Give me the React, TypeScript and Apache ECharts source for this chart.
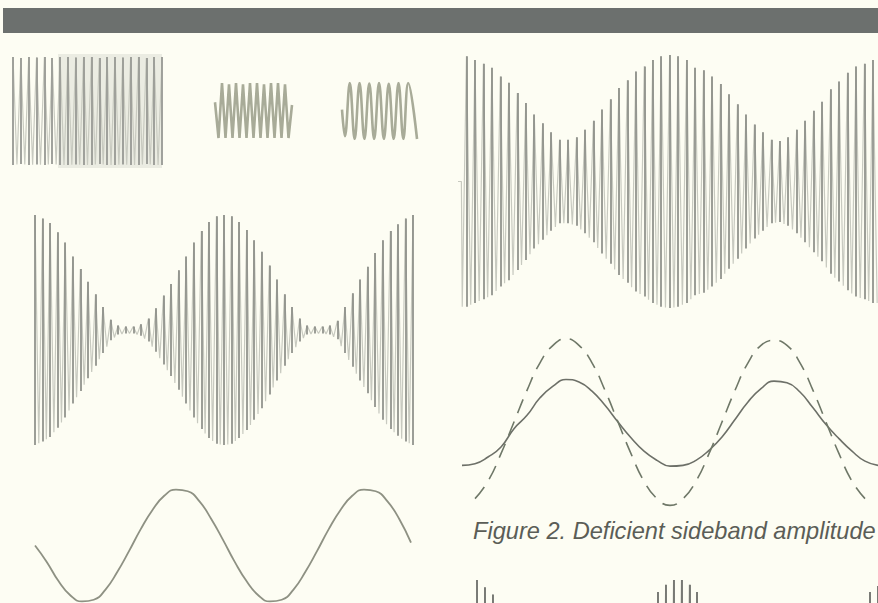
import React, { useEffect, useRef } from "react";
import * as echarts from "echarts";

// ---- Data ----
// A: unmodulated carrier block (top left), envelope per carrier cycle
const carrierEnvA = [1, 0.98, 1, 0.99, 1, 0.98, 1, 1, 0.99, 1, 1, 0.98, 1, 1, 0.99, 1, 1, 0.98, 1, 1];
// B: sideband burst (half-cycle peaks)
const burstB = [0.3, -1, 1, -1, 0.95, -1, 1, -1, 0.95, -1, 1, -1, 1, -1, 0.95, -1, 1, -1, 1, -1, 0.95, -1, 0.2];
// C: lower sideband burst, half-cycle peak positions (cycles) and values
const burstCX = [0, 0.3, 0.8, 1.3, 1.8, 2.3, 2.8, 3.3, 3.8, 4.3, 4.8, 5.3, 5.8, 6.3, 6.8, 7.7];
const burstCY = [0.05, -0.9, 1, -1, 1, -1, 0.98, -1, 1, -1, 0.97, -1, 1, -1, 1, -1];
// D: 100% modulated carrier, envelope per carrier cycle
const envD = [1.0, 0.97, 0.93, 0.85, 0.76, 0.64, 0.53, 0.42, 0.31, 0.2, 0.09, 0.04, 0.03, 0.03, 0.05, 0.1, 0.19, 0.3, 0.4, 0.52, 0.64, 0.76, 0.86, 0.94, 0.99, 1.0, 0.99, 0.94, 0.87, 0.78, 0.68, 0.56, 0.44, 0.31, 0.2, 0.1, 0.04, 0.03, 0.03, 0.04, 0.08, 0.2, 0.32, 0.44, 0.55, 0.67, 0.78, 0.86, 0.92, 0.97, 1.0];
// E: recovered audio (bottom left), samples every 1/16 period
const audioE = [0.0, -0.29, -0.63, -0.88, -0.99, -0.96, -0.78, -0.47, -0.1, 0.29, 0.63, 0.88, 0.99, 0.96, 0.78, 0.47, 0.1, -0.29, -0.63, -0.88, -0.99, -0.96, -0.78, -0.47, -0.1, 0.29, 0.63, 0.88, 0.99, 0.96, 0.78, 0.47, 0.05];
// F: partially modulated carrier (top right), envelope per carrier cycle
const envF = [0.99, 0.96, 0.93, 0.9, 0.83, 0.78, 0.7, 0.62, 0.53, 0.46, 0.39, 0.33, 0.33, 0.35, 0.41, 0.48, 0.57, 0.65, 0.74, 0.8, 0.87, 0.91, 0.96, 0.99, 1.0, 0.99, 0.96, 0.9, 0.88, 0.83, 0.77, 0.69, 0.61, 0.53, 0.45, 0.39, 0.33, 0.32, 0.35, 0.41, 0.48, 0.56, 0.63, 0.73, 0.79, 0.86, 0.91, 0.93, 0.96];
// G: envelopes, phase in degrees
const solidPhase = [-180, -157.5, -135, -112.5, -90, -67.5, -45, -22.5, 0, 22.5, 45, 67.5, 90, 112.5, 135, 157.5, 180, 202.5, 225, 247.5, 270, 292.5, 315, 337.5, 360, 382.5, 405, 427.5, 450, 472.5, 495, 517.5, 540];
const solidEnv = [-0.52, -0.5, -0.42, -0.3, -0.08, 0.08, 0.29, 0.43, 0.51, 0.48, 0.37, 0.2, 0.0, -0.19, -0.35, -0.46, -0.53, -0.52, -0.46, -0.34, -0.18, 0.03, 0.24, 0.4, 0.49, 0.47, 0.36, 0.17, -0.03, -0.2, -0.35, -0.47, -0.52];
const dashedPhase = [-157.5, -135, -112.5, -90, -67.5, -45, -22.5, 0, 22.5, 45, 67.5, 90, 112.5, 135, 157.5, 180, 202.5, 225, 247.5, 270, 292.5, 315, 337.5, 360, 382.5, 405, 427.5, 450, 472.5, 495, 517.5];
const dashedEnv = [-0.92, -0.71, -0.38, 0, 0.38, 0.71, 0.92, 1.0, 0.92, 0.71, 0.38, 0, -0.38, -0.71, -0.92, -1.0, -0.92, -0.71, -0.38, 0, 0.38, 0.71, 0.92, 0.98, 0.92, 0.71, 0.38, 0, -0.38, -0.71, -0.92];
// H: next figure's carrier (only its tops show at the bottom edge), envelope per cycle
const envH = [1.0, 0.94, 0.88, 0.8, 0.7, 0.6, 0.5, 0.4, 0.3, 0.2, 0.12, 0.06, 0.03, 0.03, 0.06, 0.12, 0.2, 0.3, 0.4, 0.5, 0.6, 0.7, 0.8, 0.9, 0.96, 1.0, 1.0, 0.96, 0.9, 0.8, 0.7, 0.6, 0.5, 0.4, 0.3, 0.2, 0.12, 0.06, 0.03, 0.03, 0.06, 0.12, 0.2, 0.3, 0.4, 0.5, 0.6, 0.7, 0.75, 0.8, 0.9, 0.95];

const captionText = "Figure 2. Deficient sideband amplitude";

function traceData(env: number[]) {
  const d: number[][] = [];
  for (let i = 0; i < env.length; i++) {
    d.push([i, env[i]]);
    if (i < env.length - 1) d.push([i + 0.5, -(env[i] + env[i + 1]) / 2]);
  }
  return d;
}
function strokeData(env: number[]) {
  return env.map((a, i) => ({ coords: [[i, -a], [i, a]] }));
}

export default function App() {
  const ref = useRef<HTMLDivElement>(null);
  useEffect(() => {
    if (!ref.current) return;
    const chart = echarts.init(ref.current, undefined, { renderer: "svg" });
    const grids = [
      { left: 8, top: 57, width: 154, height: 108, xmin: -0.64, xmax: 19, ymin: -1, ymax: 1 }, // A
      { left: 215, top: 83, width: 77, height: 55, xmin: 0, xmax: 11, ymin: -1, ymax: 1 }, // B
      { left: 342, top: 83, width: 76, height: 56, xmin: 0, xmax: 7.8, ymin: -1, ymax: 1 }, // C
      { left: 35, top: 215, width: 378, height: 230, xmin: 0, xmax: envD.length - 1, ymin: -1, ymax: 1 }, // D
      { left: 35, top: 489, width: 376, height: 113, xmin: 0, xmax: 2, ymin: -1, ymax: 1 }, // E
      { left: 458, top: 55, width: 420, height: 253, xmin: -1, xmax: 48.6, ymin: -1, ymax: 1 }, // F
      { left: 462, top: 322, width: 416, height: 200, xmin: -180, xmax: 540, ymin: -1.2, ymax: 1.2 }, // G
      { left: 477, top: 580, width: 408, height: 23, xmin: 0, xmax: envH.length - 1, ymin: 0.81, ymax: 1 }, // H
    ];
    const line = (gi: number, data: any[], color: string, width: number, extra: any = {}) => ({
      type: "line",
      xAxisIndex: gi,
      yAxisIndex: gi,
      data,
      symbol: "none",
      showSymbol: false,
      silent: true,
      clip: true,
      lineStyle: { color, width, ...(extra.lineStyle || {}) },
      smooth: extra.smooth || false,
      z: 2,
    });
    const strokes = (gi: number, env: number[], color: string, width: number) => ({
      type: "lines",
      coordinateSystem: "cartesian2d",
      xAxisIndex: gi,
      yAxisIndex: gi,
      data: strokeData(env),
      silent: true,
      clip: true,
      lineStyle: { color, width, opacity: 1 },
      z: 3,
    });
    const lightTrace = "#c8cac0";
    const series: any[] = [
      line(0, traceData(carrierEnvA), lightTrace, 1.2),
      strokes(0, carrierEnvA, "#9c9e98", 1.9),
      line(1, burstB.map((v, i) => [i * 0.5, v]), "#a8ab98", 2.6),
      line(2, burstCX.map((x, i) => [x, burstCY[i]]), "#a8ab98", 2.6, { smooth: 0.4 }),
      line(3, traceData(envD), lightTrace, 1.2),
      strokes(3, envD, "#8b8d87", 1.7),
      line(4, audioE.map((v, i) => [i / 16, v]), "#8e9183", 1.8, { smooth: true }),
      line(5, [[-1, 0], [-0.6, 0], [-0.5, -envF[0]]].concat(traceData(envF)).concat([[48.5, -envF[48]]]), lightTrace, 1.2),
      strokes(5, envF, "#8b8d87", 1.7),
      line(6, solidPhase.map((x, i) => [x, solidEnv[i]]), "#6d7068", 1.6, { smooth: true }),
      line(6, dashedPhase.map((x, i) => [x, dashedEnv[i]]), "#6f7868", 1.6, { smooth: true, lineStyle: { type: [15, 9] } }),
      line(7, traceData(envH), lightTrace, 1.2),
      strokes(7, envH, "#6f716c", 1.8),
    ];
    chart.setOption({
      animation: false,
      backgroundColor: "#fdfdf3",
      title: {
        text: captionText,
        left: 473,
        top: 519,
        padding: 0,
        textStyle: {
          fontStyle: "italic",
          fontWeight: "normal",
          fontSize: 23.6,
          color: "#5b5d57",
          fontFamily: "Liberation Sans, Arial, sans-serif",
        },
      },
      graphic: [
        { type: "rect", z: 0, shape: { x: 3, y: 8, width: 875, height: 25 }, style: { fill: "#6c706e" } },
        { type: "rect", z: 0, shape: { x: 58, y: 54, width: 104, height: 114 }, style: { fill: "#ebece2" } },
      ],
      grid: grids.map((g) => ({ left: g.left, top: g.top, width: g.width, height: g.height, containLabel: false })),
      xAxis: grids.map((g, i) => ({ type: "value", gridIndex: i, min: g.xmin, max: g.xmax, show: false })),
      yAxis: grids.map((g, i) => ({ type: "value", gridIndex: i, min: g.ymin, max: g.ymax, show: false })),
      series,
    });
    return () => chart.dispose();
  }, []);
  return <div ref={ref} style={{ position: "fixed", left: 0, top: 0, width: 878, height: 603 }} />;
}
